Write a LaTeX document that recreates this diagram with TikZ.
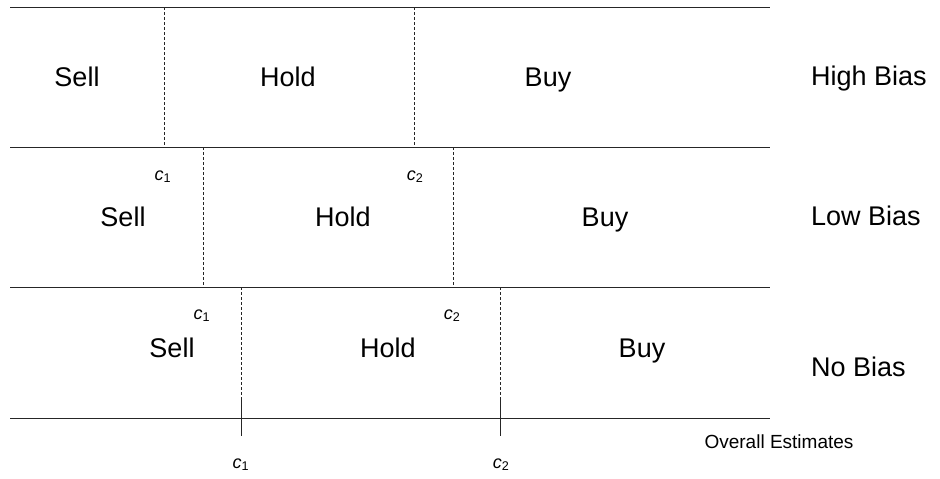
\documentclass[tikz,border=0pt]{standalone}
\usepackage{fontspec}
\setmainfont{Liberation Sans}
\usepackage{tikz}

\newcommand{\cutlbl}[1]{{\itshape c}\textsubscript{#1}}

\tikzset{
    rowline/.style={line width=0.9pt, black!85},
    cutline/.style={line width=0.8pt, black!85, dash pattern=on 3pt off 2pt},
    tickline/.style={line width=0.9pt, black!85},
    actlbl/.style={anchor=base, inner sep=0pt, font=\fontsize{27}{32}\selectfont},
    biaslbl/.style={anchor=base west, inner sep=0pt, font=\fontsize{27}{32}\selectfont},
    cutname/.style={anchor=base, inner sep=0pt, font=\fontsize{18}{21}\selectfont},
    axislbl/.style={anchor=base, inner sep=0pt, font=\fontsize{19}{22}\selectfont}
}

\begin{document}
\begin{tikzpicture}[x=1pt,y=-1pt]
                \useasboundingbox (0,0) rectangle (940,479);
                % row boundaries
                \coordinate (l0) at (10,7);     \coordinate (r0) at (770,7);
                \coordinate (l1) at (10,147);   \coordinate (r1) at (770,147);
                \coordinate (l2) at (10,287);   \coordinate (r2) at (770,287);
                \coordinate (l3) at (10,418);   \coordinate (r3) at (770,418);
                \draw[rowline] (l0) -- (r0);
                \draw[rowline] (l1) -- (r1);
                \draw[rowline] (l2) -- (r2);
                \draw[rowline] (l3) -- (r3);
                % high bias cut-offs
                \draw[cutline] (164,7) coordinate (hc1) -- (164,147);
                \draw[cutline] (414,7) coordinate (hc2) -- (414,147);
                % low bias cut-offs
                \draw[cutline] (203,147) coordinate (lc1) -- (203,287);
                \draw[cutline] (453,147) coordinate (lc2) -- (453,287);
                % no bias cut-offs and ticks on the estimate axis
                \coordinate (t1) at (241,400);
                \coordinate (t2) at (500,400);
                \coordinate (b1) at (241,436);
                \coordinate (b2) at (500,436);
                \draw[cutline] (241,287) coordinate (nc1) -- (t1);
                \draw[cutline] (500,287) coordinate (nc2) -- (t2);
                \draw[tickline] (t1) -- (b1);
                \draw[tickline] (t2) -- (b2);
                % actions
                \node[actlbl] (hsell) at (77,86) {Sell};
                \node[actlbl] (hhold) at (288,86) {Hold};
                \node[actlbl] (hbuy) at (548,86) {Buy};
                \node[actlbl] (lsell) at (123,226) {Sell};
                \node[actlbl] (lhold) at (343,226) {Hold};
                \node[actlbl] (lbuy) at (605,226) {Buy};
                \node[actlbl] (nsell) at (172,357) {Sell};
                \node[actlbl] (nhold) at (388,357) {Hold};
                \node[actlbl] (nbuy) at (642,357) {Buy};
                % bias labels
                \node[biaslbl] (high) at (811,85) {High Bias};
                \node[biaslbl] (low) at (811,225) {Low Bias};
                \node[biaslbl] (none) at (811,376) {No Bias};
                % cut-off names
                \node[cutname] (lc1n) at (163,180) {\cutlbl{1}};
                \node[cutname] (lc2n) at (415,180) {\cutlbl{2}};
                \node[cutname] (nc1n) at (202,319) {\cutlbl{1}};
                \node[cutname] (nc2n) at (452,319) {\cutlbl{2}};
                \node[cutname] (bc1n) at (241,468) {\cutlbl{1}};
                \node[cutname] (bc2n) at (501,468) {\cutlbl{2}};
                \node[axislbl] (axis) at (779,448) {Overall Estimates};
\end{tikzpicture}
\end{document}
